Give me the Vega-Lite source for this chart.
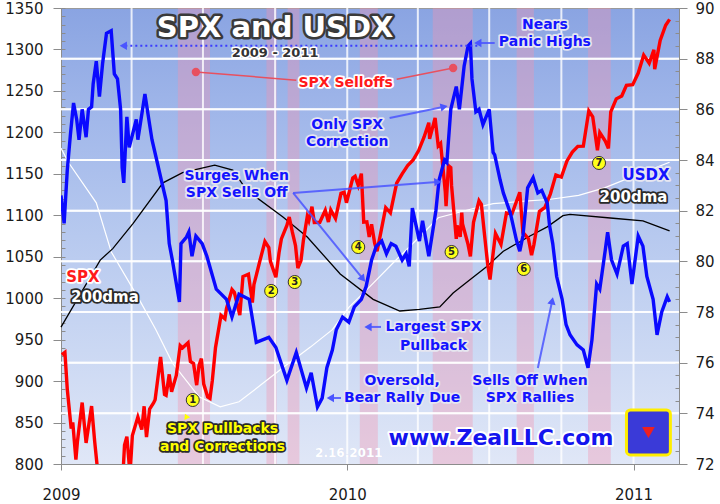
{
"$schema": "https://vega.github.io/schema/vega-lite/v6.json",
"width": 618, "height": 456,
"autosize": {"type": "none"},
"padding": {"left": 61, "top": 8, "right": 41, "bottom": 40},
"background": "#ffffff",
"config": {
  "view": {"stroke": "#9a9a9a", "strokeWidth": 1, "fill": {"gradient": "linear", "x1": 0, "y1": 0, "x2": 0, "y2": 1, "stops": [{"offset": 0, "color": "#8aa4e2"}, {"offset": 0.25, "color": "#a2b8ea"}, {"offset": 0.5, "color": "#b7c9ef"}, {"offset": 0.75, "color": "#cbd8f3"}, {"offset": 1, "color": "#e0e7f7"}]}},
  "axis": {"labelFont": "DejaVu Sans", "labelFontSize": 15, "labelColor": "#1a1a1a", "domainColor": "#8c8c8c", "tickColor": "#8c8c8c", "grid": false},
  "text": {"font": "DejaVu Sans", "fontWeight": "bold"}
},
"datasets": {
  "spx": [
    {"date":"2009-01-02","v":931.8},{"date":"2009-01-06","v":934.7},{"date":"2009-01-09","v":890.4},{"date":"2009-01-14","v":842.6},{"date":"2009-01-16","v":850.1},{"date":"2009-01-20","v":805.2},{"date":"2009-01-22","v":827.5},{"date":"2009-01-28","v":874.1},{"date":"2009-02-02","v":825.4},{"date":"2009-02-09","v":869.9},{"date":"2009-02-13","v":826.8},{"date":"2009-02-17","v":789.2},{"date":"2009-02-20","v":770.1},{"date":"2009-02-27","v":735.1},{"date":"2009-03-09","v":676.5},{"date":"2009-03-13","v":756.6},{"date":"2009-03-17","v":778.1},{"date":"2009-03-20","v":768.5},{"date":"2009-03-23","v":822.9},{"date":"2009-03-26","v":832.9},{"date":"2009-03-30","v":787.5},{"date":"2009-04-02","v":834.4},{"date":"2009-04-09","v":856.6},{"date":"2009-04-14","v":841.5},{"date":"2009-04-17","v":869.6},{"date":"2009-04-20","v":832.4},{"date":"2009-04-24","v":866.2},{"date":"2009-04-29","v":873.6},{"date":"2009-05-01","v":877.5},{"date":"2009-05-08","v":929.2},{"date":"2009-05-13","v":883.9},{"date":"2009-05-15","v":882.9},{"date":"2009-05-19","v":908.1},{"date":"2009-05-22","v":887.0},{"date":"2009-05-28","v":906.8},{"date":"2009-06-02","v":942.9},{"date":"2009-06-05","v":940.1},{"date":"2009-06-12","v":946.2},{"date":"2009-06-15","v":923.7},{"date":"2009-06-19","v":921.2},{"date":"2009-06-23","v":895.1},{"date":"2009-06-26","v":918.9},{"date":"2009-06-29","v":927.2},{"date":"2009-07-02","v":896.4},{"date":"2009-07-07","v":881.0},{"date":"2009-07-10","v":879.1},{"date":"2009-07-13","v":901.1},{"date":"2009-07-17","v":940.4},{"date":"2009-07-24","v":979.3},{"date":"2009-07-29","v":975.2},{"date":"2009-07-31","v":987.5},{"date":"2009-08-07","v":1010.5},{"date":"2009-08-10","v":1007.1},{"date":"2009-08-17","v":979.7},{"date":"2009-08-21","v":1026.1},{"date":"2009-08-28","v":1028.9},{"date":"2009-09-02","v":994.8},{"date":"2009-09-04","v":1016.4},{"date":"2009-09-11","v":1042.7},{"date":"2009-09-18","v":1068.3},{"date":"2009-09-23","v":1060.9},{"date":"2009-09-25","v":1044.4},{"date":"2009-10-02","v":1025.2},{"date":"2009-10-06","v":1054.7},{"date":"2009-10-09","v":1071.5},{"date":"2009-10-16","v":1087.7},{"date":"2009-10-19","v":1097.9},{"date":"2009-10-23","v":1079.6},{"date":"2009-10-27","v":1063.4},{"date":"2009-10-30","v":1036.2},{"date":"2009-11-03","v":1045.4},{"date":"2009-11-06","v":1069.3},{"date":"2009-11-11","v":1098.5},{"date":"2009-11-13","v":1093.5},{"date":"2009-11-17","v":1110.3},{"date":"2009-11-20","v":1091.4},{"date":"2009-11-27","v":1091.5},{"date":"2009-12-04","v":1106.0},{"date":"2009-12-08","v":1091.9},{"date":"2009-12-11","v":1106.4},{"date":"2009-12-17","v":1096.1},{"date":"2009-12-24","v":1126.5},{"date":"2009-12-28","v":1127.8},{"date":"2009-12-31","v":1115.1},
    {"date":"2010-01-08","v":1145.0},{"date":"2010-01-11","v":1147.0},{"date":"2010-01-15","v":1136.0},{"date":"2010-01-19","v":1150.2},{"date":"2010-01-22","v":1091.8},{"date":"2010-01-26","v":1092.2},{"date":"2010-01-29","v":1073.9},{"date":"2010-02-01","v":1089.2},{"date":"2010-02-05","v":1066.2},{"date":"2010-02-08","v":1056.7},{"date":"2010-02-12","v":1075.5},{"date":"2010-02-19","v":1109.2},{"date":"2010-02-25","v":1102.9},{"date":"2010-03-05","v":1138.7},{"date":"2010-03-12","v":1150.0},{"date":"2010-03-19","v":1159.9},{"date":"2010-03-26","v":1166.6},{"date":"2010-04-02","v":1178.1},{"date":"2010-04-09","v":1194.4},{"date":"2010-04-15","v":1211.7},{"date":"2010-04-16","v":1192.1},{"date":"2010-04-23","v":1217.3},{"date":"2010-04-27","v":1183.7},{"date":"2010-04-30","v":1186.7},{"date":"2010-05-06","v":1128.2},{"date":"2010-05-07","v":1110.9},{"date":"2010-05-10","v":1159.7},{"date":"2010-05-13","v":1157.4},{"date":"2010-05-14","v":1135.7},{"date":"2010-05-20","v":1071.6},{"date":"2010-05-21","v":1087.7},{"date":"2010-05-25","v":1074.0},{"date":"2010-05-27","v":1103.1},{"date":"2010-05-28","v":1089.4},{"date":"2010-06-04","v":1064.9},{"date":"2010-06-07","v":1050.5},{"date":"2010-06-11","v":1091.6},{"date":"2010-06-18","v":1117.5},{"date":"2010-06-21","v":1113.2},{"date":"2010-06-25","v":1076.8},{"date":"2010-06-29","v":1041.2},{"date":"2010-07-02","v":1022.6},{"date":"2010-07-09","v":1078.0},{"date":"2010-07-16","v":1064.9},{"date":"2010-07-23","v":1102.7},{"date":"2010-07-30","v":1101.6},{"date":"2010-08-09","v":1127.8},{"date":"2010-08-13","v":1079.3},{"date":"2010-08-20","v":1071.7},{"date":"2010-08-24","v":1051.9},{"date":"2010-08-27","v":1064.6},{"date":"2010-09-03","v":1104.5},{"date":"2010-09-10","v":1109.6},{"date":"2010-09-17","v":1125.6},{"date":"2010-09-24","v":1148.7},{"date":"2010-10-01","v":1146.2},{"date":"2010-10-08","v":1165.2},{"date":"2010-10-15","v":1176.2},{"date":"2010-10-22","v":1183.1},{"date":"2010-10-29","v":1183.3},{"date":"2010-11-05","v":1225.9},{"date":"2010-11-10","v":1218.7},{"date":"2010-11-16","v":1178.3},{"date":"2010-11-19","v":1199.7},{"date":"2010-11-26","v":1189.4},{"date":"2010-11-30","v":1180.6},{"date":"2010-12-03","v":1224.7},{"date":"2010-12-10","v":1240.4},{"date":"2010-12-17","v":1243.9},{"date":"2010-12-23","v":1256.8},{"date":"2010-12-31","v":1257.6},
    {"date":"2011-01-07","v":1271.5},{"date":"2011-01-14","v":1293.2},{"date":"2011-01-21","v":1283.4},{"date":"2011-01-27","v":1299.5},{"date":"2011-01-28","v":1276.3},{"date":"2011-02-04","v":1310.9},{"date":"2011-02-11","v":1329.2},{"date":"2011-02-16","v":1336.3}
  ],
  "usdx": [
    {"date":"2009-01-01","v":82.6},{"date":"2009-01-05","v":81.5},{"date":"2009-01-09","v":83.6},{"date":"2009-01-13","v":85.0},{"date":"2009-01-17","v":86.25},{"date":"2009-01-21","v":85.6},{"date":"2009-01-24","v":84.8},{"date":"2009-01-28","v":86.0},{"date":"2009-02-02","v":84.9},{"date":"2009-02-05","v":86.0},{"date":"2009-02-09","v":86.1},{"date":"2009-02-11","v":87.0},{"date":"2009-02-15","v":87.9},{"date":"2009-02-19","v":86.5},{"date":"2009-02-23","v":87.8},{"date":"2009-02-28","v":89.0},{"date":"2009-03-06","v":89.1},{"date":"2009-03-10","v":87.4},{"date":"2009-03-14","v":87.2},{"date":"2009-03-18","v":86.0},{"date":"2009-03-20","v":83.7},{"date":"2009-03-22","v":83.1},{"date":"2009-03-26","v":85.7},{"date":"2009-03-29","v":84.5},{"date":"2009-04-07","v":85.6},{"date":"2009-04-09","v":84.8},{"date":"2009-04-18","v":86.6},{"date":"2009-04-23","v":85.6},{"date":"2009-04-27","v":84.8},{"date":"2009-05-03","v":84.0},{"date":"2009-05-09","v":83.2},{"date":"2009-05-15","v":82.4},{"date":"2009-05-19","v":80.7},{"date":"2009-05-23","v":80.05},{"date":"2009-06-01","v":78.4},{"date":"2009-06-03","v":80.7},{"date":"2009-06-10","v":80.96},{"date":"2009-06-13","v":81.16},{"date":"2009-06-17","v":80.2},{"date":"2009-06-22","v":81.0},{"date":"2009-06-30","v":80.7},{"date":"2009-07-06","v":80.2},{"date":"2009-07-18","v":78.9},{"date":"2009-07-31","v":78.5},{"date":"2009-08-07","v":77.8},{"date":"2009-08-16","v":78.7},{"date":"2009-08-29","v":78.5},{"date":"2009-09-07","v":76.8},{"date":"2009-09-23","v":77.0},{"date":"2009-10-02","v":76.6},{"date":"2009-10-16","v":75.3},{"date":"2009-10-28","v":76.4},{"date":"2009-11-10","v":75.0},{"date":"2009-11-16","v":75.6},{"date":"2009-11-24","v":74.25},{"date":"2009-11-30","v":74.6},{"date":"2009-12-06","v":75.8},{"date":"2009-12-13","v":76.5},{"date":"2009-12-18","v":77.3},{"date":"2009-12-26","v":77.8},
    {"date":"2010-01-03","v":77.6},{"date":"2010-01-10","v":78.2},{"date":"2010-01-19","v":78.5},{"date":"2010-01-25","v":79.0},{"date":"2010-02-01","v":80.05},{"date":"2010-02-07","v":80.6},{"date":"2010-02-14","v":80.8},{"date":"2010-02-20","v":80.3},{"date":"2010-02-26","v":80.7},{"date":"2010-03-04","v":80.6},{"date":"2010-03-12","v":80.05},{"date":"2010-03-17","v":80.3},{"date":"2010-03-21","v":79.8},{"date":"2010-03-25","v":82.1},{"date":"2010-04-03","v":80.8},{"date":"2010-04-07","v":81.6},{"date":"2010-04-15","v":80.2},{"date":"2010-04-24","v":82.0},{"date":"2010-04-28","v":83.2},{"date":"2010-05-05","v":84.0},{"date":"2010-05-08","v":83.9},{"date":"2010-05-13","v":86.0},{"date":"2010-05-20","v":86.9},{"date":"2010-05-24","v":86.0},{"date":"2010-05-30","v":87.7},{"date":"2010-06-04","v":88.5},{"date":"2010-06-07","v":88.6},{"date":"2010-06-09","v":87.2},{"date":"2010-06-14","v":85.9},{"date":"2010-06-18","v":86.0},{"date":"2010-06-23","v":85.4},{"date":"2010-07-01","v":86.0},{"date":"2010-07-06","v":84.3},{"date":"2010-07-08","v":84.2},{"date":"2010-07-15","v":83.2},{"date":"2010-07-19","v":82.7},{"date":"2010-07-28","v":81.9},{"date":"2010-08-05","v":80.8},{"date":"2010-08-09","v":80.4},{"date":"2010-08-13","v":81.0},{"date":"2010-08-19","v":82.9},{"date":"2010-08-26","v":83.3},{"date":"2010-09-01","v":82.7},{"date":"2010-09-06","v":82.8},{"date":"2010-09-13","v":82.3},{"date":"2010-09-16","v":81.4},{"date":"2010-09-20","v":80.7},{"date":"2010-09-25","v":79.4},{"date":"2010-10-02","v":78.5},{"date":"2010-10-07","v":77.5},{"date":"2010-10-12","v":77.1},{"date":"2010-10-21","v":76.7},{"date":"2010-10-29","v":76.5},{"date":"2010-11-04","v":75.8},{"date":"2010-11-09","v":76.9},{"date":"2010-11-15","v":79.1},{"date":"2010-11-19","v":78.9},{"date":"2010-11-26","v":80.45},{"date":"2010-11-29","v":81.15},{"date":"2010-12-04","v":80.05},{"date":"2010-12-11","v":79.5},{"date":"2010-12-19","v":80.6},{"date":"2010-12-24","v":80.7},{"date":"2010-12-30","v":79.1},
    {"date":"2011-01-07","v":81.0},{"date":"2011-01-13","v":80.6},{"date":"2011-01-18","v":79.4},{"date":"2011-01-26","v":78.5},{"date":"2011-01-31","v":77.1},{"date":"2011-02-06","v":78.0},{"date":"2011-02-13","v":78.6},{"date":"2011-02-16","v":78.4}
  ],
  "spxma": [
    {"date":"2009-01-01","v":1181},{"date":"2009-01-11","v":1163},{"date":"2009-02-15","v":1115},{"date":"2009-03-06","v":1056},{"date":"2009-04-11","v":998},{"date":"2009-05-02","v":962},{"date":"2009-05-23","v":922},{"date":"2009-06-26","v":881},{"date":"2009-07-23","v":869},{"date":"2009-08-16","v":875},{"date":"2009-09-15","v":897},{"date":"2009-10-15","v":919},{"date":"2009-11-15","v":941},{"date":"2009-12-13","v":962},{"date":"2010-01-03","v":989},{"date":"2010-02-01","v":1016},{"date":"2010-03-01","v":1043},{"date":"2010-04-01","v":1072},{"date":"2010-04-27","v":1097},{"date":"2010-06-18","v":1110},{"date":"2010-07-06","v":1114},{"date":"2010-08-15","v":1117},{"date":"2010-09-15","v":1119},{"date":"2010-10-23","v":1124},{"date":"2010-11-25","v":1133},{"date":"2010-12-29","v":1146},{"date":"2011-02-16","v":1164}
  ],
  "usdxma": [
    {"date":"2009-01-01","v":77.4},{"date":"2009-02-20","v":80.05},{"date":"2009-03-08","v":80.5},{"date":"2009-04-03","v":81.5},{"date":"2009-05-11","v":83.1},{"date":"2009-06-05","v":83.5},{"date":"2009-07-16","v":83.8},{"date":"2009-08-08","v":83.6},{"date":"2009-08-26","v":82.8},{"date":"2009-10-11","v":81.75},{"date":"2009-11-11","v":80.96},{"date":"2009-12-23","v":79.5},{"date":"2010-02-03","v":78.5},{"date":"2010-03-09","v":78.04},{"date":"2010-04-03","v":78.1},{"date":"2010-04-29","v":78.2},{"date":"2010-05-16","v":78.75},{"date":"2010-06-06","v":79.26},{"date":"2010-06-28","v":79.8},{"date":"2010-07-19","v":80.4},{"date":"2010-08-22","v":81.0},{"date":"2010-09-13","v":81.36},{"date":"2010-10-03","v":81.8},{"date":"2010-10-12","v":81.85},{"date":"2010-12-06","v":81.7},{"date":"2011-01-13","v":81.6},{"date":"2011-02-16","v":81.2}
  ],
  "bands": [
    {"date":"2009-05-30","end":"2009-07-10"},{"date":"2009-09-20","end":"2009-10-03"},{"date":"2009-10-17","end":"2009-11-01"},{"date":"2010-01-17","end":"2010-02-09"},{"date":"2010-04-20","end":"2010-06-10"},{"date":"2010-08-05","end":"2010-08-27"},{"date":"2010-11-04","end":"2010-12-03"}
  ],
  "grid": [
    {"date":"2009-04-01","end":"2009-04-01","lo":72,"hi":90},{"date":"2009-07-01","end":"2009-07-01","lo":72,"hi":90},{"date":"2009-10-01","end":"2009-10-01","lo":72,"hi":90},{"date":"2010-01-01","end":"2010-01-01","lo":72,"hi":90},{"date":"2010-04-01","end":"2010-04-01","lo":72,"hi":90},{"date":"2010-07-01","end":"2010-07-01","lo":72,"hi":90},{"date":"2010-10-01","end":"2010-10-01","lo":72,"hi":90},{"date":"2011-01-01","end":"2011-01-01","lo":72,"hi":90},
    {"date":"2009-01-01","end":"2011-02-28","lo":74,"hi":74.001},{"date":"2009-01-01","end":"2011-02-28","lo":76,"hi":76.001},{"date":"2009-01-01","end":"2011-02-28","lo":78,"hi":78.001},{"date":"2009-01-01","end":"2011-02-28","lo":80,"hi":80.001},{"date":"2009-01-01","end":"2011-02-28","lo":82,"hi":82.001},{"date":"2009-01-01","end":"2011-02-28","lo":84,"hi":84.001},{"date":"2009-01-01","end":"2011-02-28","lo":86,"hi":86.001},{"date":"2009-01-01","end":"2011-02-28","lo":88,"hi":88.001}
  ],
  "hgrid": [
    {"lvl":861.11,"date":"2009-01-01"},{"lvl":861.11,"date":"2011-02-28"},{"lvl":922.22,"date":"2009-01-01"},{"lvl":922.22,"date":"2011-02-28"},{"lvl":983.33,"date":"2009-01-01"},{"lvl":983.33,"date":"2011-02-28"},{"lvl":1044.44,"date":"2009-01-01"},{"lvl":1044.44,"date":"2011-02-28"},{"lvl":1105.56,"date":"2009-01-01"},{"lvl":1105.56,"date":"2011-02-28"},{"lvl":1166.67,"date":"2009-01-01"},{"lvl":1166.67,"date":"2011-02-28"},{"lvl":1227.78,"date":"2009-01-01"},{"lvl":1227.78,"date":"2011-02-28"},{"lvl":1288.89,"date":"2009-01-01"},{"lvl":1288.89,"date":"2011-02-28"}
  ],
  "arrows": [
    {"id":"a","date":"2010-02-24","v":1217.3},{"id":"a","date":"2010-05-03","v":1230.6},
    {"id":"b","date":"2009-10-24","v":1126.9},{"id":"b","date":"2010-04-25","v":1140.1},
    {"id":"c","date":"2009-10-24","v":1126.9},{"id":"c","date":"2010-01-20","v":1024.4},
    {"id":"d","date":"2010-09-01","v":915.8},{"id":"d","date":"2010-09-19","v":995.4},
    {"id":"e","date":"2010-02-13","v":965.3},{"id":"e","date":"2010-01-29","v":965.3},
    {"id":"f","date":"2009-12-24","v":879.6},{"id":"f","date":"2009-12-12","v":879.6},
    {"id":"g","date":"2010-07-08","v":1307.8},{"id":"g","date":"2010-06-18","v":1307.8}
  ],
  "heads": [
    {"date":"2010-05-03","v":1230.6,"dir":78},{"date":"2010-04-25","v":1140.1,"dir":86},{"date":"2010-01-20","v":1024.4,"dir":141},{"date":"2010-09-19","v":995.4,"dir":12},{"date":"2010-01-29","v":965.3,"dir":270},{"date":"2009-12-12","v":879.6,"dir":270},{"date":"2010-06-18","v":1307.8,"dir":270},{"date":"2009-03-23","v":1304.5,"dir":270}
  ],
  "dotted": [{"date":"2009-03-24","v":1304.5},{"date":"2010-06-17","v":1304.5}],
  "redlines": [{"id":"r1","date":"2009-06-22","v":1272.8},{"id":"r1","date":"2009-10-28","v":1263},{"id":"r2","date":"2010-03-05","v":1264},{"id":"r2","date":"2010-05-16","v":1277.6}],
  "reddots": [{"date":"2009-06-22","v":1272.8},{"date":"2010-05-16","v":1277.6}],
  "circles": [{"n":"1","date":"2009-06-18","v":877.2},{"n":"2","date":"2009-09-26","v":1008.7},{"n":"3","date":"2009-10-26","v":1019.5},{"n":"4","date":"2010-01-15","v":1061.7},{"n":"5","date":"2010-05-14","v":1055.7},{"n":"6","date":"2010-08-14","v":1035.2},{"n":"7","date":"2010-11-18","v":1163.1}],
  "logo": [{"date":"2010-12-23","end":"2011-02-17","v":865.2,"v2":810.9}],
  "fan": [{"date":"2011-01-20","v":838}],
  "ydart": [{"date":"2009-06-10","v":856.7}],
  "notes": [
    {"text":"SPX and USDX","date":"2009-10-01","v":1326,"kind":"title"},
    {"text":"2009 - 2011","date":"2009-10-01","v":1295.7,"kind":"sub"},
    {"text":"SPX Selloffs","date":"2009-12-30","v":1259.5,"kind":"red"},
    {"text":"Nears","date":"2010-09-10","v":1329.5,"kind":"blue"},
    {"text":"Panic Highs","date":"2010-09-10","v":1309,"kind":"blue"},
    {"text":"Only SPX","date":"2010-01-01","v":1208.9,"kind":"blue"},
    {"text":"Correction","date":"2010-01-01","v":1188.4,"kind":"blue"},
    {"text":"Surges When","date":"2009-08-13","v":1147.4,"kind":"blue"},
    {"text":"SPX Sells Off","date":"2009-08-13","v":1126.9,"kind":"blue"},
    {"text":"Largest SPX","date":"2010-04-21","v":965.3,"kind":"blue"},
    {"text":"Pullback","date":"2010-04-21","v":942.4,"kind":"blue"},
    {"text":"Oversold,","date":"2010-03-12","v":900.1,"kind":"blue"},
    {"text":"Bear Rally Due","date":"2010-03-12","v":879.6,"kind":"blue"},
    {"text":"Sells Off When","date":"2010-08-22","v":900.1,"kind":"blue"},
    {"text":"SPX Rallies","date":"2010-08-22","v":879.6,"kind":"blue"},
    {"text":"SPX Pullbacks","date":"2009-07-26","v":842.2,"kind":"yellow"},
    {"text":"and Corrections","date":"2009-07-26","v":820.5,"kind":"yellow"},
    {"text":"www.ZealLLC.com","date":"2010-07-16","v":831.4,"kind":"url"},
    {"text":"2.16.2011","date":"2010-01-03","v":813.3,"kind":"stamp"},
    {"text":"SPX","date":"2009-01-29","v":1025.6,"kind":"redside"},
    {"text":"200dma","date":"2009-02-26","v":1001.5,"kind":"white"},
    {"text":"USDX","date":"2011-01-17","v":1148.6,"kind":"blueside"},
    {"text":"200dma","date":"2011-01-01","v":1122,"kind":"white"}
  ]
},
"encoding": {
  "x": {"field": "date", "type": "temporal",
    "scale": {"type": "utc", "domain": [{"year":2009,"month":1,"date":1,"utc":true},{"year":2011,"month":2,"date":28,"utc":true}], "nice": false},
    "axis": {"title": null, "values": [{"year":2009,"month":1,"date":1,"utc":true},{"year":2010,"month":1,"date":1,"utc":true},{"year":2011,"month":1,"date":1,"utc":true}],
      "labelExpr": "utcFormat(datum.value, '%Y')",
      "labelFlush": false, "labelOverlap": false, "tickSize": 6, "labelPadding": 17, "grid": false}
  }
},
"layer": [
  {"data": {"name": "bands"}, "mark": {"type": "rect", "color": "#f592ae", "opacity": 0.36},
   "encoding": {"x2": {"field": "end"}}},
  {"data": {"name": "grid"}, "mark": {"type": "rule", "color": "#ffffff", "strokeWidth": 2, "opacity": 0.8},
   "encoding": {"x2": {"field": "end"}, "y": {"field": "lo", "type": "quantitative", "scale": {"domain": [72, 90], "nice": false, "zero": false}, "axis": null}, "y2": {"field": "hi"}}},
  {"data": {"name": "hgrid"}, "mark": {"type": "line", "color": "#ffffff", "strokeWidth": 2, "opacity": 0.8},
   "encoding": {"detail": {"field": "lvl", "type": "nominal"}, "y": {"field": "lvl", "type": "quantitative", "scale": {"domain": [800, 1350], "nice": false, "zero": false}, "axis": null}}},
  {"data": {"name": "spxma"}, "mark": {"type": "line", "color": "#ffffff", "strokeWidth": 1.2},
   "encoding": {"y": {"field": "v", "type": "quantitative", "scale": {"domain": [800, 1350], "nice": false, "zero": false},
     "axis": {"orient": "left", "title": null, "values": [800,810,820,830,840,850,860,870,880,890,900,910,920,930,940,950,960,970,980,990,1000,1010,1020,1030,1040,1050,1060,1070,1080,1090,1100,1110,1120,1130,1140,1150,1160,1170,1180,1190,1200,1210,1220,1230,1240,1250,1260,1270,1280,1290,1300,1310,1320,1330,1340,1350], "tickSize": 4, "offset": -4, "labels": false, "domain": false, "grid": false}}}},
  {"data": {"name": "usdxma"}, "mark": {"type": "line", "color": "#000000", "strokeWidth": 1.3},
   "encoding": {"y": {"field": "v", "type": "quantitative", "scale": {"domain": [72, 90], "nice": false, "zero": false},
     "axis": {"orient": "right", "title": null, "values": [72,72.5,73,73.5,74,74.5,75,75.5,76,76.5,77,77.5,78,78.5,79,79.5,80,80.5,81,81.5,82,82.5,83,83.5,84,84.5,85,85.5,86,86.5,87,87.5,88,88.5,89,89.5,90], "tickSize": 4, "offset": -4, "labels": false, "domain": false, "grid": false}}}},
  {"data": {"name": "spx"}, "mark": {"type": "line", "color": "#ff0000", "strokeWidth": 3.4, "clip": true},
   "encoding": {"y": {"field": "v", "type": "quantitative", "scale": {"domain": [800, 1350], "nice": false, "zero": false},
     "axis": {"orient": "left", "title": null, "format": "d", "values": [800,850,900,950,1000,1050,1100,1150,1200,1250,1300,1350], "tickSize": 8, "labelPadding": 10, "grid": false, "labelOverlap": false}}}},
  {"data": {"name": "usdx"}, "mark": {"type": "line", "color": "#0a0aff", "strokeWidth": 3.4, "clip": true},
   "encoding": {"y": {"field": "v", "type": "quantitative", "scale": {"domain": [72, 90], "nice": false, "zero": false},
     "axis": {"orient": "right", "title": null, "values": [72,74,76,78,80,82,84,86,88,90], "tickSize": 8, "labelPadding": 8, "grid": false, "labelOverlap": false}}}},
  {"data": {"name": "arrows"}, "mark": {"type": "line", "color": "#4a55ff", "strokeWidth": 2, "opacity": 0.85},
   "encoding": {"detail": {"field": "id"}, "y": {"field": "v", "type": "quantitative", "scale": {"domain": [800, 1350], "nice": false, "zero": false}, "axis": null}}},
  {"data": {"name": "dotted"}, "mark": {"type": "line", "color": "#3a3aff", "strokeWidth": 2, "strokeDash": [2, 3]},
   "encoding": {"y": {"field": "v", "type": "quantitative", "scale": {"domain": [800, 1350], "nice": false, "zero": false}, "axis": null}}},
  {"data": {"name": "heads"}, "mark": {"type": "point", "shape": "triangle", "filled": true, "color": "#4a55ff", "size": 70, "opacity": 1},
   "encoding": {"angle": {"field": "dir", "type": "quantitative", "scale": null}, "y": {"field": "v", "type": "quantitative", "scale": {"domain": [800, 1350], "nice": false, "zero": false}, "axis": null}}},
  {"data": {"name": "redlines"}, "mark": {"type": "line", "color": "#e8505f", "strokeWidth": 1.5},
   "encoding": {"detail": {"field": "id"}, "y": {"field": "v", "type": "quantitative", "scale": {"domain": [800, 1350], "nice": false, "zero": false}, "axis": null}}},
  {"data": {"name": "reddots"}, "mark": {"type": "point", "shape": "circle", "filled": true, "color": "#e8505f", "size": 70, "opacity": 1},
   "encoding": {"y": {"field": "v", "type": "quantitative", "scale": {"domain": [800, 1350], "nice": false, "zero": false}, "axis": null}}},
  {"data": {"name": "circles"}, "mark": {"type": "point", "shape": "circle", "filled": true, "color": "#ffff1a", "stroke": "#333333", "strokeWidth": 1, "size": 170, "opacity": 1},
   "encoding": {"y": {"field": "v", "type": "quantitative", "scale": {"domain": [800, 1350], "nice": false, "zero": false}, "axis": null}}},
  {"data": {"name": "circles"}, "mark": {"type": "text", "fontSize": 10, "color": "#222222"},
   "encoding": {"text": {"field": "n"}, "y": {"field": "v", "type": "quantitative", "scale": {"domain": [800, 1350], "nice": false, "zero": false}, "axis": null}}},
  {"data": {"name": "logo"}, "mark": {"type": "rect", "color": "#3a3ad8", "stroke": "#ffee00", "strokeWidth": 3, "cornerRadius": 4},
   "encoding": {"x2": {"field": "end"}, "y": {"field": "v", "type": "quantitative", "scale": {"domain": [800, 1350], "nice": false, "zero": false}, "axis": null}, "y2": {"field": "v2"}}},
  {"data": {"name": "fan"}, "mark": {"type": "point", "shape": "triangle-down", "filled": true, "color": "#ee2020", "size": 160, "opacity": 1},
   "encoding": {"y": {"field": "v", "type": "quantitative", "scale": {"domain": [800, 1350], "nice": false, "zero": false}, "axis": null}}},
  {"data": {"name": "ydart"}, "mark": {"type": "point", "shape": "triangle", "filled": true, "color": "#ffff00", "size": 40, "angle": 335, "opacity": 1},
   "encoding": {"y": {"field": "v", "type": "quantitative", "scale": {"domain": [800, 1350], "nice": false, "zero": false}, "axis": null}}},
  {"data": {"name": "notes"}, "mark": {"type": "text", "strokeJoin": "round"},
   "encoding": {"text": {"field": "text"},
     "y": {"field": "v", "type": "quantitative", "scale": {"domain": [800, 1350], "nice": false, "zero": false}, "axis": null},
     "color": {"field": "kind", "type": "nominal", "legend": null, "scale": {"domain": ["title","sub","red","blue","yellow","url","stamp","redside","blueside","white"], "range": ["#3a3a3a","#ffffff","#ffffff","#e6e6f0","#2a2a2a","#ffffff","#c8d4f0","#ffffff","#e6e6f0","#2a2a2a"]}},
     "stroke": {"field": "kind", "type": "nominal", "legend": null, "scale": {"domain": ["title","sub","red","blue","yellow","url","stamp","redside","blueside","white"], "range": ["#3a3a3a","#ffffff","#ffffff","#e6e6f0","#2a2a2a","#ffffff","#c8d4f0","#ffffff","#e6e6f0","#2a2a2a"]}},
     "strokeWidth": {"field": "kind", "type": "nominal", "legend": null, "scale": {"type": "ordinal", "domain": ["title","sub","red","blue","yellow","url","stamp","redside","blueside","white"], "range": [5,3,3.5,3.5,3.5,4,0.1,3.5,3.5,3.5]}},
     "size": {"field": "kind", "type": "nominal", "legend": null, "scale": {"type": "ordinal", "domain": ["title","sub","red","blue","yellow","url","stamp","redside","blueside","white"], "range": [29,13,14,14,14,22,12,15,15,15]}}}},
  {"data": {"name": "notes"}, "mark": {"type": "text"},
   "encoding": {"text": {"field": "text"},
     "y": {"field": "v", "type": "quantitative", "scale": {"domain": [800, 1350], "nice": false, "zero": false}, "axis": null},
     "color": {"field": "kind", "type": "nominal", "legend": null, "scale": {"domain": ["title","sub","red","blue","yellow","url","stamp","redside","blueside","white"], "range": ["#ffffff","#333333","#ff1a1a","#1414ff","#ffff00","#1414ee","#ffffff","#ff1a1a","#1414ff","#ffffff"]}},
     "size": {"field": "kind", "type": "nominal", "legend": null, "scale": {"type": "ordinal", "domain": ["title","sub","red","blue","yellow","url","stamp","redside","blueside","white"], "range": [29,13,14,14,14,22,12,15,15,15]}}}}
],
"resolve": {"scale": {"y": "independent", "color": "independent", "stroke": "independent"}, "axis": {"y": "independent"}}
}
